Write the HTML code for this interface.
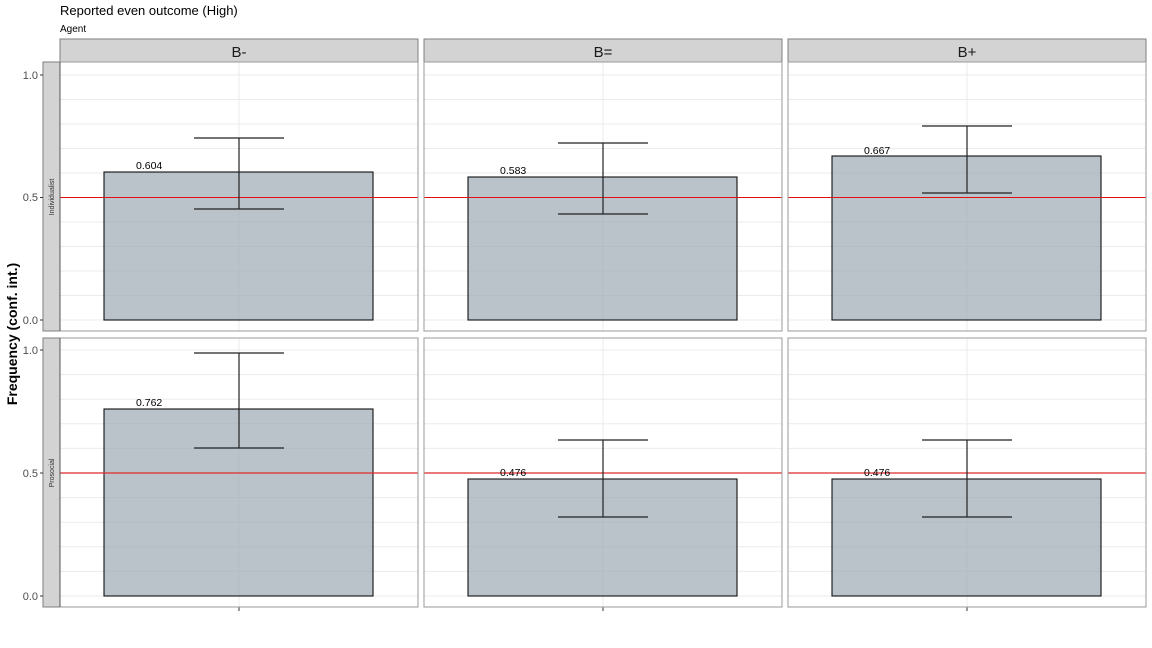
<!DOCTYPE html>
<html><head><meta charset="utf-8"><style>
html,body{margin:0;padding:0;background:#fff}
svg{display:block;font-family:"Liberation Sans",Arial,sans-serif}
</style></head><body>
<svg width="1152" height="648" viewBox="0 0 1152 648" xmlns="http://www.w3.org/2000/svg">
<defs>
<g id="gridT" stroke="#ebebeb" stroke-width="1">
<line x1="0" x2="358" y1="320" y2="320"/><line x1="0" x2="358" y1="295.5" y2="295.5"/><line x1="0" x2="358" y1="271" y2="271"/><line x1="0" x2="358" y1="246.5" y2="246.5"/><line x1="0" x2="358" y1="222" y2="222"/><line x1="0" x2="358" y1="197.5" y2="197.5"/><line x1="0" x2="358" y1="173" y2="173"/><line x1="0" x2="358" y1="148.5" y2="148.5"/><line x1="0" x2="358" y1="124" y2="124"/><line x1="0" x2="358" y1="99.5" y2="99.5"/><line x1="0" x2="358" y1="75" y2="75"/>
<line x1="179" x2="179" y1="62" y2="331"/>
</g>
<g id="gridB" stroke="#ebebeb" stroke-width="1">
<line x1="0" x2="358" y1="596" y2="596"/><line x1="0" x2="358" y1="571.4" y2="571.4"/><line x1="0" x2="358" y1="546.8" y2="546.8"/><line x1="0" x2="358" y1="522.2" y2="522.2"/><line x1="0" x2="358" y1="497.6" y2="497.6"/><line x1="0" x2="358" y1="473" y2="473"/><line x1="0" x2="358" y1="448.4" y2="448.4"/><line x1="0" x2="358" y1="423.8" y2="423.8"/><line x1="0" x2="358" y1="399.2" y2="399.2"/><line x1="0" x2="358" y1="374.6" y2="374.6"/><line x1="0" x2="358" y1="350" y2="350"/>
<line x1="179" x2="179" y1="338" y2="607"/>
</g>
</defs>
<text x="60" y="15" font-size="13" fill="#000">Reported even outcome (High)</text>
<text x="60" y="32" font-size="10" fill="#000">Agent</text>

<!-- strips top -->
<g font-size="15" fill="#1a1a1a" text-anchor="middle">
<rect x="60" y="39" width="358" height="23" fill="#d3d3d3" stroke="#7f7f7f"/>
<text x="239" y="57">B-</text>
<rect x="424" y="39" width="358" height="23" fill="#d3d3d3" stroke="#7f7f7f"/>
<text x="603" y="57">B=</text>
<rect x="788" y="39" width="358" height="23" fill="#d3d3d3" stroke="#7f7f7f"/>
<text x="967" y="57">B+</text>
</g>
<!-- side strips -->
<rect x="43" y="62" width="17" height="269" fill="#d3d3d3" stroke="#7f7f7f"/>
<rect x="43" y="338" width="17" height="269" fill="#d3d3d3" stroke="#7f7f7f"/>
<text transform="translate(54,197) rotate(-90)" font-size="7" text-anchor="middle" fill="#333">Individualist</text>
<text transform="translate(54,473) rotate(-90)" font-size="7" text-anchor="middle" fill="#333">Prosocial</text>

<!-- y axis -->
<g font-size="11" fill="#4d4d4d" text-anchor="end">
<text x="38" y="79">1.0</text><text x="38" y="201">0.5</text><text x="38" y="324">0.0</text>
<text x="38" y="354">1.0</text><text x="38" y="477">0.5</text><text x="38" y="600">0.0</text>
</g>
<g stroke="#333"><line x1="40" x2="43" y1="75" y2="75"/><line x1="40" x2="43" y1="197.5" y2="197.5"/><line x1="40" x2="43" y1="320" y2="320"/>
<line x1="40" x2="43" y1="350" y2="350"/><line x1="40" x2="43" y1="473" y2="473"/><line x1="40" x2="43" y1="596" y2="596"/>
<line x1="239" x2="239" y1="607" y2="611"/><line x1="603" x2="603" y1="607" y2="611"/><line x1="967" x2="967" y1="607" y2="611"/></g>
<text transform="translate(17,334) rotate(-90)" font-size="14" font-weight="bold" text-anchor="middle" fill="#000">Frequency (conf. int.)</text>

<!-- panels -->
<g transform="translate(60,0)"><use href="#gridT"/></g>
<g transform="translate(424,0)"><use href="#gridT"/></g>
<g transform="translate(788,0)"><use href="#gridT"/></g>
<g transform="translate(60,0)"><use href="#gridB"/></g>
<g transform="translate(424,0)"><use href="#gridB"/></g>
<g transform="translate(788,0)"><use href="#gridB"/></g>

<!-- bars -->
<g fill="#9aa6b0" fill-opacity="0.68" stroke="#111" stroke-width="1.1">
<rect x="104" y="172" width="269" height="148"/>
<rect x="468" y="177" width="269" height="143"/>
<rect x="832" y="156" width="269" height="164"/>
<rect x="104" y="409" width="269" height="187"/>
<rect x="468" y="479" width="269" height="117"/>
<rect x="832" y="479" width="269" height="117"/>
</g>
<!-- reference lines -->
<g stroke="#e01010" stroke-width="1">
<line x1="60" x2="418" y1="197.5" y2="197.5"/><line x1="424" x2="782" y1="197.5" y2="197.5"/><line x1="788" x2="1146" y1="197.5" y2="197.5"/>
</g>
<g stroke="#e03030" stroke-width="1.4" stroke-opacity="0.85">
<line x1="60" x2="418" y1="473" y2="473"/><line x1="424" x2="782" y1="473" y2="473"/><line x1="788" x2="1146" y1="473" y2="473"/>
</g>
<!-- error bars -->
<g stroke="#222" stroke-width="1.2" fill="none">
<path d="M194 138H284M239 138V209M194 209H284"/>
<path d="M558 143H648M603 143V214M558 214H648"/>
<path d="M922 126H1012M967 126V193M922 193H1012"/>
<path d="M194 353H284M239 353V448M194 448H284"/>
<path d="M558 440H648M603 440V517M558 517H648"/>
<path d="M922 440H1012M967 440V517M922 517H1012"/>
</g>
<!-- labels -->
<g font-size="10.5" fill="#000">
<text x="136" y="169">0.604</text>
<text x="500" y="174">0.583</text>
<text x="864" y="154">0.667</text>
<text x="136" y="406">0.762</text>
<text x="500" y="476">0.476</text>
<text x="864" y="476">0.476</text>
</g>
<!-- panel borders -->
<g fill="none" stroke="#9a9a9a" stroke-width="1">
<rect x="60" y="62" width="358" height="269"/><rect x="424" y="62" width="358" height="269"/><rect x="788" y="62" width="358" height="269"/>
<rect x="60" y="338" width="358" height="269"/><rect x="424" y="338" width="358" height="269"/><rect x="788" y="338" width="358" height="269"/>
</g>
<line x1="60" x2="60" y1="62" y2="331" stroke="#555"/>
<line x1="60" x2="60" y1="338" y2="607" stroke="#555"/>
</svg>
</body></html>
